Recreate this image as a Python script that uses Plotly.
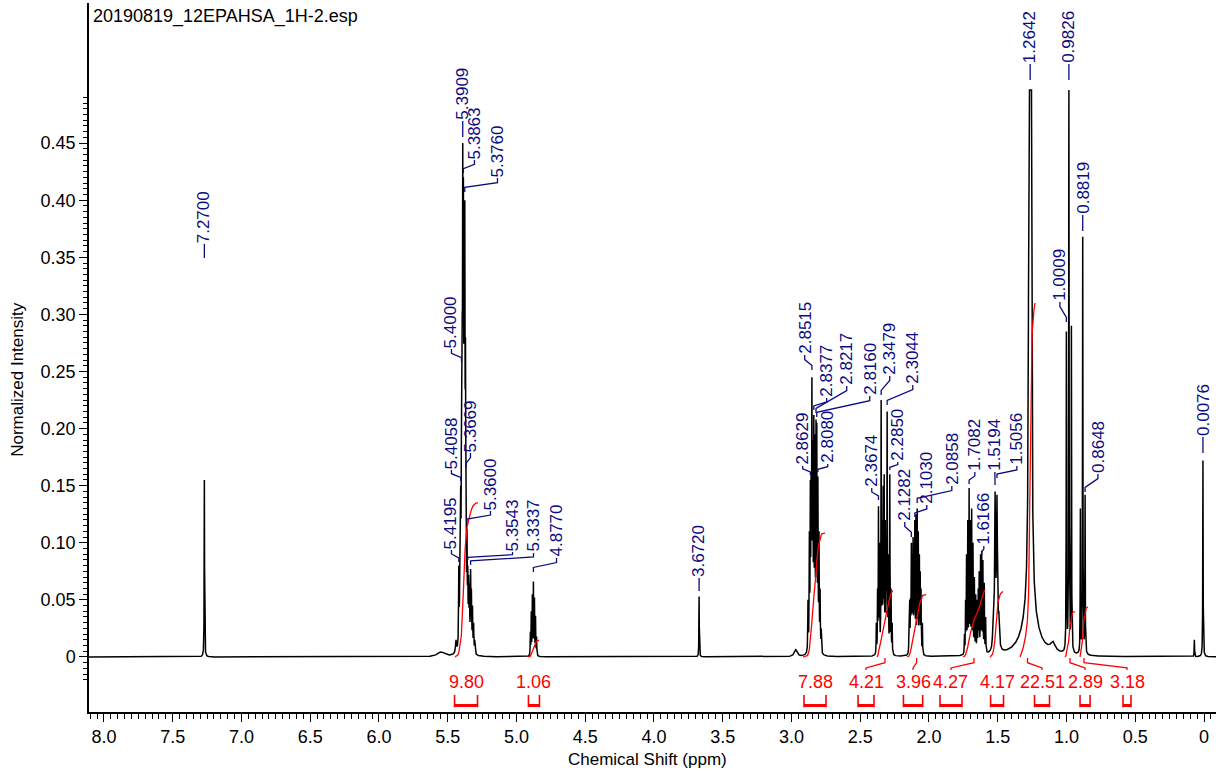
import numpy as np
import plotly.graph_objects as go

# ---------------- resolved lines: shift (ppm), apex intensity, half width (ppm)
line_ppm = [
    7.2700,
    5.4400, 5.4195, 5.4120, 5.4058, 5.4000, 5.3950, 5.3909, 5.3863, 5.3810, 5.3760,
    5.3710, 5.3669, 5.3600, 5.3543, 5.3480, 5.3420, 5.3337, 5.3280, 5.3200, 5.3120, 5.3040,
    4.8990, 4.8924, 4.8847, 4.8770, 4.8693, 4.8616, 4.8540,
    3.6720,
    2.8800, 2.8700, 2.8629, 2.8570, 2.8515, 2.8450, 2.8377, 2.8300, 2.8217, 2.8160,
    2.8080, 2.8000, 2.7920, 2.7840,
    2.3830, 2.3740, 2.3674, 2.3600, 2.3479, 2.3400, 2.3330, 2.3260, 2.3180, 2.3110,
    2.3044, 2.2960, 2.2850, 2.2760, 2.2680,
    2.1460, 2.1400, 2.1340, 2.1282, 2.1220, 2.1158, 2.1090, 2.1030, 2.0950, 2.0858,
    2.0780, 2.0700, 2.0640, 2.0580, 2.0480,
    1.7420, 1.7340, 1.7270, 1.7180, 1.7082, 1.6990, 1.6896, 1.6800, 1.6700, 1.6600,
    1.6500, 1.6420, 1.6350, 1.6250, 1.6166, 1.6080, 1.5980, 1.5880,
    1.5330, 1.5194, 1.5056, 1.4920,
    1.2700, 1.2585,
    1.0009, 0.9826, 0.9643,
    0.8990, 0.8819, 0.8648,
    0.0700, 0.0076,
]
line_height = [
    0.155,
    0.015, 0.080, 0.095, 0.150, 0.250, 0.300, 0.450, 0.420, 0.400, 0.400,
    0.280, 0.160, 0.112, 0.080, 0.072, 0.065, 0.077, 0.060, 0.045, 0.030, 0.015,
    0.022, 0.040, 0.055, 0.066, 0.052, 0.036, 0.018,
    0.053,
    0.050, 0.110, 0.155, 0.170, 0.245, 0.190, 0.212, 0.195, 0.208, 0.205,
    0.158, 0.110, 0.060, 0.025,
    0.030, 0.060, 0.132, 0.100, 0.225, 0.120, 0.150, 0.160, 0.120, 0.100,
    0.215, 0.090, 0.160, 0.060, 0.030,
    0.025, 0.050, 0.070, 0.100, 0.090, 0.105, 0.100, 0.120, 0.125, 0.130,
    0.110, 0.090, 0.075, 0.060, 0.030,
    0.020, 0.050, 0.090, 0.120, 0.148, 0.120, 0.130, 0.100, 0.070, 0.055,
    0.050, 0.060, 0.075, 0.090, 0.093, 0.085, 0.065, 0.035,
    0.040, 0.145, 0.142, 0.040,
    1.000, 1.000,
    0.285, 0.570, 0.290,
    0.130, 0.368, 0.142,
    0.015, 0.172,
]
line_hwhm = (
    [0.0015]
    + [0.004] + [0.002] * 20
    + [0.0015] * 7
    + [0.0015]
    + [0.0018] * 14
    + [0.0015] * 15
    + [0.0015] * 15
    + [0.0015] * 18
    + [0.004] * 4
    + [0.004] * 2
    + [0.0015] * 3
    + [0.0015] * 3
    + [0.0015] * 2
)

# ---------------- broad baseline features
hump_ppm = [5.55, 2.97, 1.265, 1.10]
hump_height = [0.004, 0.006, 0.040, 0.008]
hump_hwhm = [0.03, 0.012, 0.06, 0.02]

# ---------------- peak picking
pick_ppm = [7.2700, 5.4195, 5.4058, 5.4000, 5.3909, 5.3863, 5.3760, 5.3669, 5.3600,
            5.3543, 5.3337, 4.8770, 3.6720, 2.8629, 2.8515, 2.8377, 2.8217, 2.8160,
            2.8080, 2.3674, 2.3479, 2.3044, 2.2850, 2.1282, 2.1030, 2.0858, 1.7082,
            1.6166, 1.5194, 1.5056, 1.2642, 1.0009, 0.9826, 0.8819, 0.8648, 0.0076]
# label placement: text position (ppm), leader start and text base (intensity)
pick_label_ppm = [7.2700, 5.473, 5.473, 5.473, 5.3909, 5.3057, 5.1383, 5.3348, 5.1892,
                  5.0291, 4.8763, 4.7089, 3.6720, 2.9185, 2.9039, 2.7438, 2.5983, 2.4309,
                  2.7365, 2.4163, 2.2853, 2.1179, 2.2271, 2.1761, 2.0160, 1.8341, 1.6667,
                  1.6012, 1.5211, 1.3610, 1.2642, 1.0480, 0.9826, 0.8819, 0.7715, 0.0076]
pick_leader_start = [0.3494, 0.0832, 0.1541, 0.2583, 0.4553, 0.4238, 0.4072, 0.1655, 0.1173,
                     0.0849, 0.0806, 0.0744, 0.0578, 0.1594, 0.2513, 0.2163, 0.2137, 0.2102,
                     0.1620, 0.1375, 0.2294, 0.2207, 0.1637, 0.1051, 0.1226, 0.1349, 0.1515,
                     0.0893, 0.1506, 0.1567, 0.5053, 0.2933, 0.5053, 0.3730, 0.1445, 0.1786]
pick_label_base = [0.3617, 0.0937, 0.1637, 0.2697, 0.4694, 0.4352, 0.4194, 0.1786, 0.1278,
                   0.0919, 0.0911, 0.0867, 0.0692, 0.1673, 0.2644, 0.2268, 0.2373, 0.2285,
                   0.1690, 0.1480, 0.2461, 0.2382, 0.1708, 0.1182, 0.1331, 0.1497, 0.1620,
                   0.0972, 0.1620, 0.1673, 0.5193, 0.3109, 0.5193, 0.3870, 0.1602, 0.1926]

# ---------------- integrals
integ_from = [5.447, 4.916, 2.916, 2.378, 2.160, 1.753, 1.556, 1.338, 1.011, 0.902]
integ_to = [5.280, 4.836, 2.756, 2.262, 2.020, 1.593, 1.462, 1.229, 0.938, 0.844]
integ_value = [9.80, 1.06, 7.88, 4.21, 3.96, 4.27, 4.17, 22.51, 2.89, 3.18]
integ_label_ppm = [5.367, 4.873, 2.829, 2.458, 2.116, 1.840, 1.505, 1.178, 0.865, 0.560]

# ---------------- axes
xtick_vals = [8.0, 7.5, 7.0, 6.5, 6.0, 5.5, 5.0, 4.5, 4.0, 3.5, 3.0, 2.5, 2.0, 1.5, 1.0, 0.5, 0.0]
xtick_text = ["8.0", "7.5", "7.0", "6.5", "6.0", "5.5", "5.0", "4.5", "4.0", "3.5", "3.0",
              "2.5", "2.0", "1.5", "1.0", "0.5", "0"]
ytick_vals = [0, 0.05, 0.10, 0.15, 0.20, 0.25, 0.30, 0.35, 0.40, 0.45]
ytick_text = ["0", "0.05", "0.10", "0.15", "0.20", "0.25", "0.30", "0.35", "0.40", "0.45"]

X_RANGE = [8.109, -0.0873]
Y_RANGE = [-0.0482, 0.5727]
Y_CLIP = 0.4965
INTEG_SCALE = 0.01377
NAVY = "#0B0B82"
RED = "#FF0000"
FONT = "Liberation Sans, Arial, sans-serif"


def lorentz(x, c, w):
    return w ** 2 / ((x - c) ** 2 + w ** 2)


P = np.array(line_ppm)
H = np.array(line_height)
W = np.array(line_hwhm)
hP, hH, hW = np.array(hump_ppm), np.array(hump_height), np.array(hump_hwhm)

# amplitudes chosen so each line apex lands on its listed intensity
hump_at_lines = (hH[None, :] * lorentz(P[:, None], hP[None, :], hW[None, :])).sum(axis=1)
A = lorentz(P[:, None], P[None, :], W[None, :])
amp = np.clip(np.linalg.solve(A, H - hump_at_lines), 0, None)

grid = np.unique(np.concatenate([np.arange(-0.1, 8.15, 0.0005), P]))[::-1]
spec = (amp[None, :] * lorentz(grid[:, None], P[None, :], W[None, :])).sum(axis=1)
spec += (hH[None, :] * lorentz(grid[:, None], hP[None, :], hW[None, :])).sum(axis=1)
spec_shown = np.minimum(spec, Y_CLIP)

fig = go.Figure()
fig.add_trace(go.Scatter(x=grid, y=spec_shown, mode="lines",
                         line=dict(color="black", width=1.5), hoverinfo="skip"))

# integral curves and their brackets
bx_h, by_h, bx_v, by_v, lx_i, ly_i = [], [], [], [], [], []
annotations = []
for a, b, val, lab in zip(integ_from, integ_to, integ_value, integ_label_ppm):
    m = (grid <= a) & (grid >= b)
    gx, gy = grid[m], spec[m]
    cum = np.concatenate([[0.0], np.cumsum(0.5 * (gy[1:] + gy[:-1]) * np.abs(np.diff(gx)))])
    cum = cum / cum[-1] * val * INTEG_SCALE
    fig.add_trace(go.Scatter(x=gx, y=cum, mode="lines",
                             line=dict(color=RED, width=1.3), hoverinfo="skip"))
    half = (a - b) / 2
    bx_h += [lab + half, lab - half, None]
    by_h += [-0.0425, -0.0425, None]
    bx_v += [lab + half, lab + half, None, lab - half, lab - half, None]
    by_v += [-0.0333, -0.0440, None, -0.0333, -0.0440, None]
    mid = (a + b) / 2
    if abs(mid - lab) > 0.02:
        lx_i += [mid, mid, lab, lab, None]
        ly_i += [-0.0009, -0.0050, -0.0096, -0.0114, None]
    annotations.append(dict(x=lab, y=-0.0219, xref="x", yref="y", text=f"{val:.2f}",
                            showarrow=False, xanchor="center", yanchor="middle",
                            font=dict(family=FONT, size=18, color=RED)))

fig.add_trace(go.Scatter(x=bx_h, y=by_h, mode="lines", line=dict(color=RED, width=3),
                         hoverinfo="skip"))
fig.add_trace(go.Scatter(x=bx_v, y=by_v, mode="lines", line=dict(color=RED, width=1.6),
                         hoverinfo="skip"))
fig.add_trace(go.Scatter(x=lx_i, y=ly_i, mode="lines", line=dict(color=RED, width=1.3),
                         hoverinfo="skip"))

# peak labels with leaders
px_l, py_l = [], []
for p, lp, y0, yt in zip(pick_ppm, pick_label_ppm, pick_leader_start, pick_label_base):
    d = min(0.004, (yt - y0) / 3)
    px_l += [p, p, lp, lp, None]
    py_l += [y0, y0 + d, yt - d, yt, None]
    annotations.append(dict(x=lp, y=yt, xref="x", yref="y", text=f"{p:.4f}",
                            showarrow=False, textangle=-90, xanchor="center",
                            yanchor="bottom", borderpad=0,
                            font=dict(family=FONT, size=17, color=NAVY)))
fig.add_trace(go.Scatter(x=px_l, y=py_l, mode="lines", line=dict(color=NAVY, width=1.3),
                         hoverinfo="skip"))

annotations += [
    dict(x=0.002, y=0.9803, xref="paper", yref="paper", text="20190819_12EPAHSA_1H-2.esp",
         showarrow=False, xanchor="left", yanchor="middle",
         font=dict(family=FONT, size=18, color="black")),
    dict(x=-0.063, y=0.47, xref="paper", yref="paper", text="Normalized Intensity",
         showarrow=False, textangle=-90, xanchor="center", yanchor="middle",
         font=dict(family=FONT, size=17, color="black")),
    dict(x=0.496, y=-0.0663, xref="paper", yref="paper", text="Chemical Shift (ppm)",
         showarrow=False, xanchor="center", yanchor="middle",
         font=dict(family=FONT, size=17, color="black")),
]

fig.update_layout(
    width=1224, height=776,
    margin=dict(l=89, r=8, t=3, b=64),
    plot_bgcolor="white", paper_bgcolor="white",
    showlegend=False, hovermode=False,
    font=dict(family=FONT, size=17, color="black"),
    annotations=annotations,
    xaxis=dict(range=X_RANGE, tickmode="array", tickvals=xtick_vals, ticktext=xtick_text,
               ticks="outside", ticklen=8, tickwidth=1.2, tickcolor="black",
               showline=True, linecolor="black", linewidth=1.5,
               showgrid=False, zeroline=False, tickfont=dict(size=18),
               minor=dict(tickmode="array",
                          tickvals=[round(8.1 - 0.05 * i, 3) for i in range(165)],
                          ticks="outside", ticklen=5, tickwidth=1, tickcolor="black",
                          showgrid=False)),
    yaxis=dict(range=Y_RANGE, tickmode="array", tickvals=ytick_vals, ticktext=ytick_text,
               ticks="outside", ticklen=8, tickwidth=1.2, tickcolor="black",
               showline=True, linecolor="black", linewidth=1.5,
               showgrid=False, zeroline=False, tickfont=dict(size=18),
               minor=dict(tickmode="array",
                          tickvals=[round(-0.02 + 0.005 * i, 4) for i in range(103)],
                          ticks="outside", ticklen=4, tickwidth=1, tickcolor="black",
                          showgrid=False)),
)

fig.write_html("out.html")
